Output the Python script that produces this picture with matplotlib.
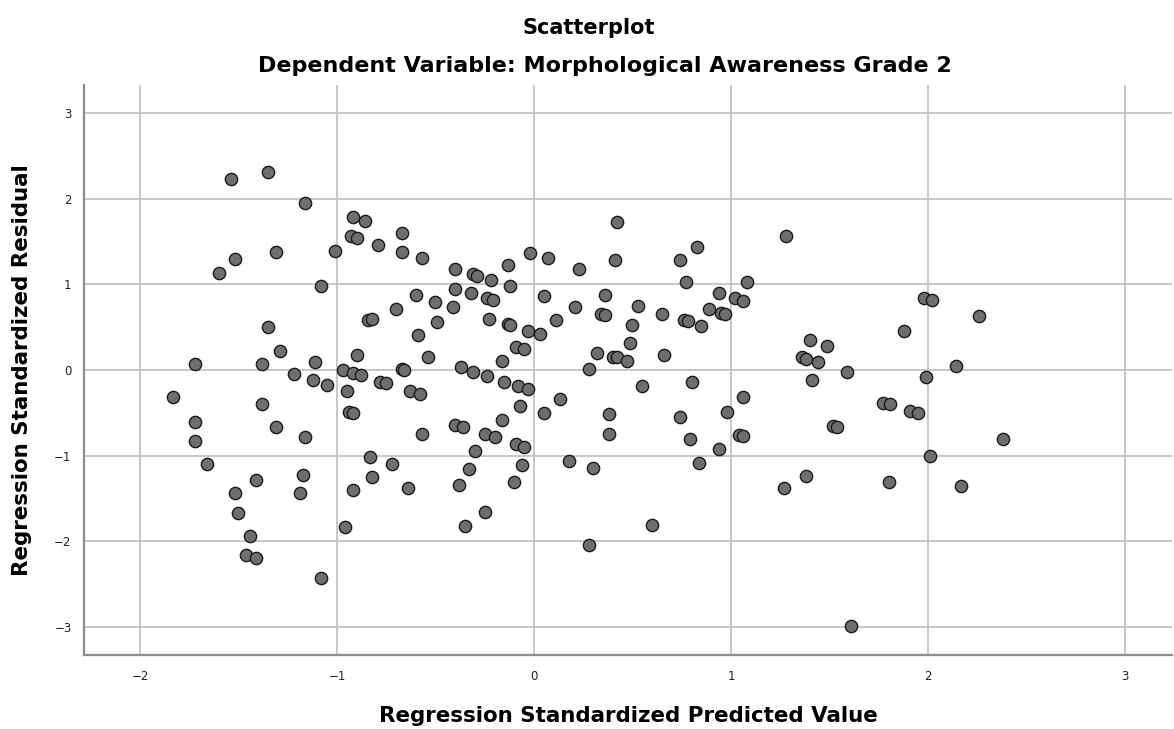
import matplotlib

matplotlib.use("Agg")
import matplotlib.pyplot as plt

# values
pred = [
    -1.54, -1.35, -1.16, -0.92, -0.86, -0.93, -0.90, -0.79, -1.52, -1.31,
    -1.01, -1.60, -1.08, -1.35, -0.84, -1.29, -0.90, -1.72, -1.38, -1.11,
    -1.22, -0.97, -0.92, -0.88, -1.12, -1.05, -1.83, -0.95, -1.38, -0.94,
    -0.92, -1.72, -1.31, -1.16, -1.72, -0.83, -1.66, -1.17, -1.41, -0.82,
    -1.52, -1.19, -0.92, -1.50, -0.96, -1.44, -1.46, -1.41, -1.08,
    0.42, -0.67, -0.67, -0.57, -0.02, 0.07, 0.41, 0.23, -0.40, -0.31,
    -0.29, -0.22, -0.13, -0.12, -0.40, -0.32, -0.60, -0.50, -0.41, -0.24,
    -0.21, 0.05, 0.36, 0.21, -0.70, -0.82, -0.49, -0.23, -0.13, -0.12,
    0.11, 0.34, 0.36, 0.53, 0.65, 0.50, -0.59, -0.03, 0.03, 0.49,
    -0.09, -0.05, -0.54, 0.32, 0.40, 0.42, 0.47, 0.66, -0.16,
    -0.67, -0.66, -0.37, -0.31, -0.24, 0.28, -0.15, -0.08, -0.03, -0.78,
    -0.75, -0.63, -0.58, 0.13, 0.55, -0.07, 0.05, 0.38, -0.16, -0.57,
    -0.40, -0.36, -0.25, -0.20, 0.38, -0.09, -0.05, -0.30, -0.72, -0.06,
    0.18, 0.30, -0.33, -0.64, -0.38, -0.10, -0.25, -0.35, 0.60, 0.28,
    1.28, 0.83, 0.74, 0.77, 1.08, 0.94, 1.02, 1.06, 0.89, 0.95,
    0.97, 0.76, 0.78, 0.85, 1.98, 2.02, 1.88, 1.40, 1.49, 1.36,
    1.38, 1.44, 2.14,
    0.80, 1.41, 1.99, 1.59, 1.06, 0.98, 0.74, 0.79, 1.04, 1.06,
    0.94, 0.84, 1.77, 1.81, 1.91, 1.95, 1.52, 1.54, 2.01, 1.38,
    1.27, 1.80, 2.17, 1.61, 2.38, 2.26,
]
resid = [
    2.23, 2.31, 1.95, 1.78, 1.74, 1.56, 1.54, 1.46, 1.30, 1.38,
    1.39, 1.13, 0.98, 0.50, 0.58, 0.22, 0.18, 0.07, 0.07, 0.09,
    -0.05, 0.00, -0.04, -0.06, -0.12, -0.17, -0.31, -0.24, -0.40, -0.49,
    -0.50, -0.61, -0.67, -0.78, -0.83, -1.02, -1.10, -1.23, -1.28, -1.25,
    -1.44, -1.44, -1.40, -1.67, -1.83, -1.94, -2.16, -2.19, -2.43,
    1.73, 1.60, 1.38, 1.31, 1.36, 1.31, 1.28, 1.18, 1.18, 1.12,
    1.10, 1.05, 1.22, 0.98, 0.95, 0.90, 0.87, 0.79, 0.73, 0.84,
    0.82, 0.86, 0.88, 0.74, 0.71, 0.59, 0.56, 0.60, 0.54, 0.53,
    0.58, 0.65, 0.64, 0.75, 0.65, 0.53, 0.41, 0.46, 0.42, 0.31,
    0.27, 0.24, 0.15, 0.20, 0.15, 0.15, 0.10, 0.18, 0.11,
    0.01, 0.00, 0.03, -0.02, -0.07, 0.01, -0.14, -0.19, -0.22, -0.14,
    -0.15, -0.25, -0.28, -0.34, -0.19, -0.42, -0.50, -0.51, -0.58, -0.75,
    -0.64, -0.66, -0.75, -0.78, -0.75, -0.86, -0.90, -0.95, -1.10, -1.11,
    -1.06, -1.14, -1.16, -1.38, -1.34, -1.31, -1.66, -1.82, -1.81, -2.04,
    1.56, 1.44, 1.28, 1.03, 1.03, 0.90, 0.84, 0.81, 0.71, 0.66,
    0.65, 0.58, 0.57, 0.51, 0.84, 0.82, 0.45, 0.35, 0.28, 0.15,
    0.13, 0.09, 0.05,
    -0.14, -0.12, -0.08, -0.02, -0.31, -0.49, -0.55, -0.80, -0.76, -0.77,
    -0.92, -1.08, -0.38, -0.40, -0.48, -0.50, -0.65, -0.66, -1.00, -1.24,
    -1.38, -1.31, -1.35, -2.99, -0.81, 0.63,
]
ticks = [-3, -2, -1, 0, 1, 2, 3]

fig = plt.figure(figsize=(11.74, 7.29), dpi=100)
ax = fig.add_axes([84 / 1174, 1 - 655 / 729, (1172 - 84) / 1174, (655 - 85) / 729])

ax.scatter(pred, resid, s=78, c="#6e6e6e", edgecolors="#1a1a1a", linewidths=1.0, zorder=3)

ax.set_xlim(-2.284, 3.239)
ax.set_ylim(-3.326, 3.326)
ax.set_xticks(ticks[1:])
ax.set_yticks(ticks)
ax.set_xticklabels(["\u22122", "\u22121", "0", "1", "2", "3"])
ax.set_yticklabels(["\u22123", "\u22122", "\u22121", "0", "1", "2", "3"])
ax.tick_params(length=0, labelsize=8.5, colors="#222222")
ax.tick_params(axis="x", pad=11)
ax.tick_params(axis="y", pad=9)
ax.grid(True, color="#c4c4c4", linewidth=1.3, zorder=0)
ax.set_axisbelow(True)

for side in ("top", "right"):
    ax.spines[side].set_visible(False)
for side in ("left", "bottom"):
    ax.spines[side].set_color("#8c8c8c")
    ax.spines[side].set_linewidth(1.6)

ax.set_xlabel("Regression Standardized Predicted Value", fontsize=15.4, fontweight="bold", labelpad=16)
ax.set_ylabel("Regression Standardized Residual", fontsize=15.4, fontweight="bold", labelpad=16)

fig.text(589 / 1174, 1 - 28 / 729, "Scatterplot", ha="center", va="center", fontsize=15, fontweight="bold")
fig.text(605 / 1174, 1 - 66 / 729, "Dependent Variable: Morphological Awareness Grade 2",
         ha="center", va="center", fontsize=16, fontweight="bold")

fig.savefig("out.png", dpi=100)
